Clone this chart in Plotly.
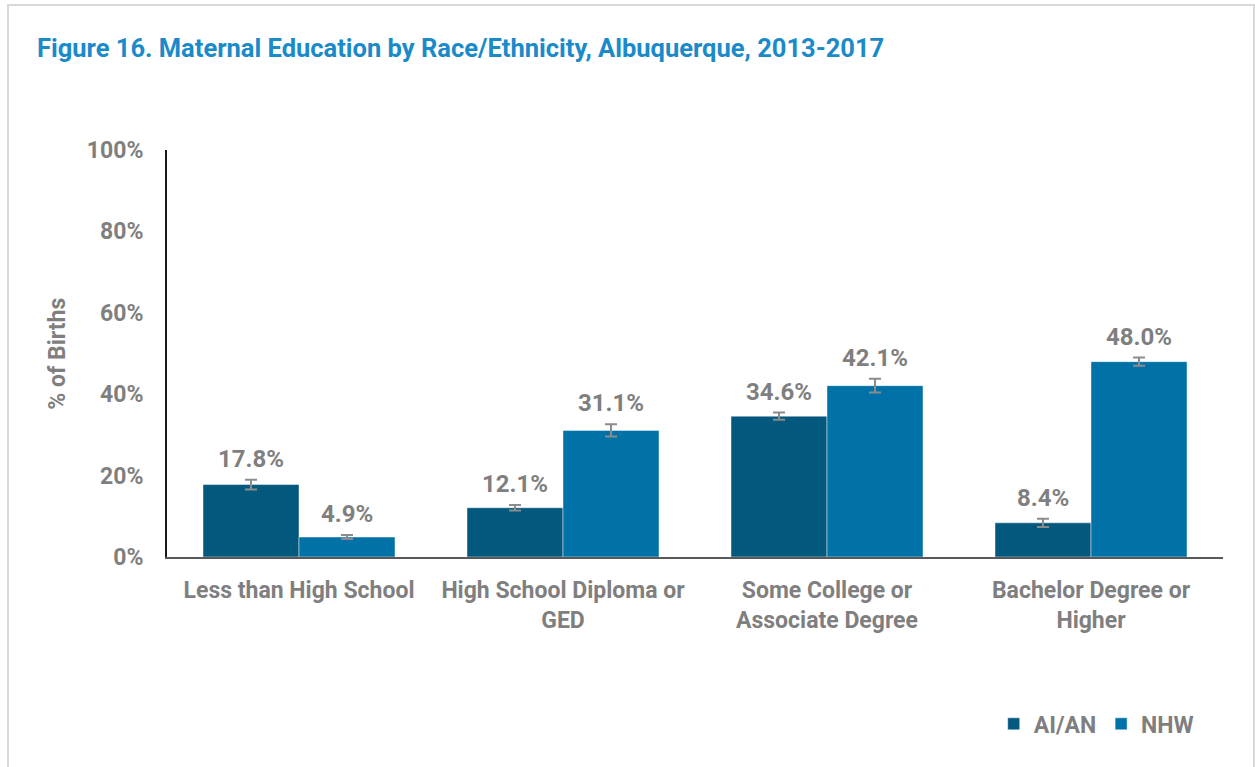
import plotly.graph_objects as go

categories = ["Less than High School", "High School Diploma or<br>GED",
              "Some College or<br>Associate Degree", "Bachelor Degree or<br>Higher"]
series_names = ["AI/AN", "NHW"]
aian_values = [17.8, 12.1, 34.6, 8.4]
nhw_values = [4.9, 31.1, 42.1, 48.0]
aian_err = [1.2, 0.7, 0.9, 1.0]
nhw_err = [0.5, 1.5, 1.7, 1.0]
y_ticks = [0, 20, 40, 60, 80, 100]
y_ticklabels = ["0%", "20%", "40%", "60%", "80%", "100%"]

FONT = "Roboto, Arial, sans-serif"
GRAY = "#7f7f7f"
colors = ["#03587E", "#0072A7"]

fig = go.Figure()
for name, vals, errs, col in zip(series_names, [aian_values, nhw_values],
                                 [aian_err, nhw_err], colors):
    fig.add_trace(go.Bar(
        x=categories, y=vals, name=name,
        marker=dict(color=col, line=dict(color="rgba(255,255,255,0.45)", width=1)),
        error_y=dict(type="data", array=errs, visible=True, color="#8c8c8c",
                     thickness=2, width=6),
        hoverinfo="skip",
    ))

annotations = []
for i, (vals, errs) in enumerate([(aian_values, aian_err), (nhw_values, nhw_err)]):
    for j, (v, e) in enumerate(zip(vals, errs)):
        annotations.append(dict(
            x=j + (-0.1818 if i == 0 else 0.1818), xref="x",
            y=v + e, yref="y", yanchor="bottom", yshift=5,
            text=f"{v:.1f}%", showarrow=False,
            font=dict(family=FONT, size=24, color=GRAY, weight="bold"),
        ))

annotations.append(dict(
    x=-0.104, xref="paper", y=0.5, yref="paper", text="% of Births",
    textangle=-90, showarrow=False, xanchor="center", yanchor="middle",
    font=dict(family=FONT, size=23, color=GRAY, weight="bold"),
))

fig.update_layout(
    width=1255, height=767,
    margin=dict(l=167, r=32, t=150, b=210),
    paper_bgcolor="white", plot_bgcolor="white",
    title=dict(text="Figure 16. Maternal Education by Race/Ethnicity, Albuquerque, 2013-2017",
               x=37 / 1255, xanchor="left", y=1 - 48 / 767, yanchor="middle",
               font=dict(family=FONT, size=25.5, color="#1B8AC9", weight="bold")),
    barmode="group", bargap=0.2727, bargroupgap=0,
    xaxis=dict(
        type="category", showgrid=False, showline=True, linecolor="#595959",
        linewidth=2, ticks="", ticklabelstandoff=11,
        tickfont=dict(family=FONT, size=23, color=GRAY, weight="bold"),
    ),
    yaxis=dict(
        range=[0, 100], tickvals=y_ticks, ticktext=y_ticklabels,
        showgrid=False, showline=True, linecolor="#1a1a1a", linewidth=2,
        ticks="", ticklabelstandoff=17, zeroline=False,
        tickfont=dict(family=FONT, size=23, color=GRAY, weight="bold"),
    ),
    legend=dict(
        orientation="h", x=0.977, xanchor="right", y=-0.41, yanchor="middle",
        font=dict(family=FONT, size=23, color=GRAY, weight="bold"),
        itemclick=False, itemdoubleclick=False,
    ),
    annotations=annotations,
    shapes=[dict(type="rect", xref="paper", yref="paper",
                 x0=(8 - 167) / 1056, x1=(1254 - 167) / 1056,
                 y0=-0.6, y1=1 + (150 - 5) / 407,
                 line=dict(color="#d9d9d9", width=2), layer="below")],
    showlegend=True,
)

fig.write_html("out.html", config={"displayModeBar": False},
               post_script="document.body.style.margin='0';document.body.style.overflow='hidden';")
